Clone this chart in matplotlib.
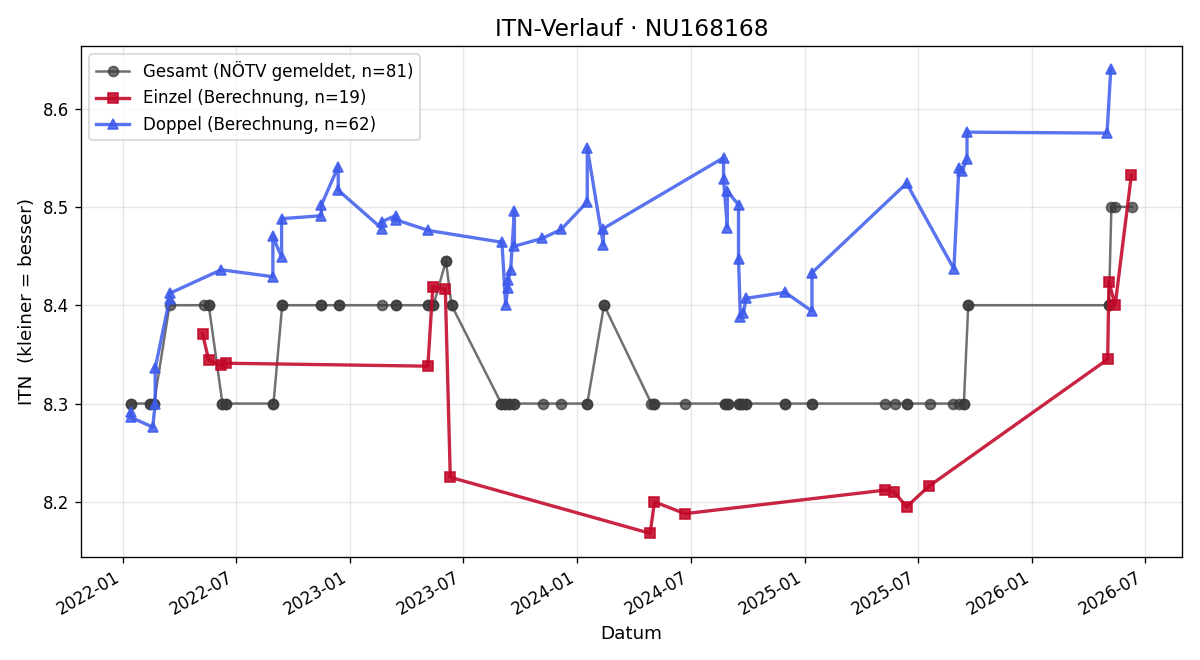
import matplotlib
matplotlib.use("Agg")
import matplotlib.pyplot as plt
import numpy as np
import pandas as pd

# Gesamt-ITN laut NÖTV (Datum, Wert, Anzahl Meldungen an dem Tag)
gesamt_dates = [
    "2022-01-14", "2022-02-14", "2022-02-20", "2022-03-17", "2022-05-12", "2022-05-19",
    "2022-06-10", "2022-06-15", "2022-08-31", "2022-09-14", "2022-11-16", "2022-12-15",
    "2023-02-22", "2023-03-15", "2023-05-06", "2023-05-15", "2023-06-04", "2023-06-13",
    "2023-09-01", "2023-09-07", "2023-09-14", "2023-09-22", "2023-11-07", "2023-12-06",
    "2024-01-17", "2024-02-13", "2024-04-29", "2024-05-04", "2024-06-22", "2024-08-25",
    "2024-08-30", "2024-09-16", "2024-09-22", "2024-09-28", "2024-11-30", "2025-01-12",
    "2025-05-10", "2025-05-25", "2025-06-14", "2025-07-21", "2025-08-27", "2025-09-05",
    "2025-09-13", "2025-09-20", "2026-05-04", "2026-05-08", "2026-05-14", "2026-06-10",
]
gesamt_itn = [
    8.3, 8.3, 8.3, 8.4, 8.4, 8.4,
    8.3, 8.3, 8.3, 8.4, 8.4, 8.4,
    8.4, 8.4, 8.4, 8.4, 8.445, 8.4,
    8.3, 8.3, 8.3, 8.3, 8.3, 8.3,
    8.3, 8.4, 8.3, 8.3, 8.3, 8.3,
    8.3, 8.3, 8.3, 8.3, 8.3, 8.3,
    8.3, 8.3, 8.3, 8.3, 8.3, 8.3,
    8.3, 8.4, 8.4, 8.5, 8.5, 8.5,
]
gesamt_count = [
    2, 2, 2, 1, 1, 2,
    2, 2, 2, 2, 2, 2,
    1, 2, 2, 2, 2, 2,
    2, 2, 2, 2, 1, 1,
    2, 2, 1, 2, 1, 2,
    2, 2, 2, 2, 2, 2,
    1, 1, 2, 1, 1, 1,
    2, 2, 2, 1, 1, 1,
]

# Einzel (berechnet)
einzel_dates = [
    "2022-05-09", "2022-05-19", "2022-06-08", "2022-06-15",
    "2023-05-06", "2023-05-14", "2023-06-03", "2023-06-11",
    "2024-04-27", "2024-05-04", "2024-06-22",
    "2025-05-10", "2025-05-24", "2025-06-13", "2025-07-19",
    "2026-05-02", "2026-05-04", "2026-05-14", "2026-06-09",
]
einzel_itn = [
    8.371, 8.344, 8.339, 8.341,
    8.338, 8.419, 8.416, 8.225,
    8.168, 8.200, 8.188,
    8.212, 8.210, 8.195, 8.216,
    8.345, 8.424, 8.400, 8.532,
]

# Doppel (berechnet)
doppel_dates = [
    "2022-01-14", "2022-01-14", "2022-02-18", "2022-02-22", "2022-02-22",
    "2022-03-17", "2022-03-17", "2022-06-08", "2022-08-30", "2022-08-30",
    "2022-09-13", "2022-09-13", "2022-11-16", "2022-11-16", "2022-12-13",
    "2022-12-13", "2023-02-21", "2023-02-21", "2023-03-15", "2023-03-15",
    "2023-05-07", "2023-09-02", "2023-09-08", "2023-09-11", "2023-09-12",
    "2023-09-16", "2023-09-22", "2023-09-22", "2023-11-06", "2023-12-06",
    "2024-01-17", "2024-01-17", "2024-02-12", "2024-02-12", "2024-08-23",
    "2024-08-23", "2024-08-29", "2024-08-29", "2024-09-16", "2024-09-16",
    "2024-09-19", "2024-09-24", "2024-09-28", "2024-11-30", "2025-01-12",
    "2025-01-12", "2025-06-13", "2025-08-28", "2025-09-05", "2025-09-10",
    "2025-09-18", "2025-09-18", "2026-05-01", "2026-05-07",
]
doppel_itn = [
    8.291, 8.286, 8.276, 8.300, 8.336,
    8.406, 8.412, 8.436, 8.429, 8.470,
    8.449, 8.488, 8.491, 8.502, 8.541,
    8.517, 8.478, 8.485, 8.491, 8.487,
    8.476, 8.464, 8.400, 8.417, 8.426,
    8.436, 8.496, 8.460, 8.468, 8.477,
    8.505, 8.560, 8.461, 8.478, 8.550,
    8.528, 8.479, 8.516, 8.502, 8.447,
    8.388, 8.392, 8.407, 8.413, 8.394,
    8.433, 8.524, 8.437, 8.540, 8.536,
    8.549, 8.576, 8.575, 8.640,
]

g_x = np.repeat(pd.to_datetime(gesamt_dates), gesamt_count)
g_y = np.repeat(gesamt_itn, gesamt_count)

fig, ax = plt.subplots(figsize=(10, 5.5))

ax.plot(g_x, g_y, "-o", color="#3a3a3a", alpha=0.72, linewidth=1.5, markersize=6,
        label=f"Gesamt (NÖTV gemeldet, n={len(g_y)})")
ax.plot(pd.to_datetime(einzel_dates), einzel_itn, "-s", color="#C20728", alpha=0.88,
        linewidth=2, markersize=6, label=f"Einzel (Berechnung, n={len(einzel_itn)})")
ax.plot(pd.to_datetime(doppel_dates), doppel_itn, "-^", color="#3D5BEB", alpha=0.85,
        linewidth=2, markersize=6, label="Doppel (Berechnung, n=62)")

ax.set_title("ITN-Verlauf · NU168168", fontsize=14)
ax.set_xlabel("Datum", fontsize=11)
ax.set_ylabel("ITN  (kleiner = besser)", fontsize=11)
ax.grid(alpha=0.3)
ax.legend(loc="upper left")
fig.autofmt_xdate()

plt.tight_layout()
plt.savefig("out.png", dpi=120)
plt.close()
